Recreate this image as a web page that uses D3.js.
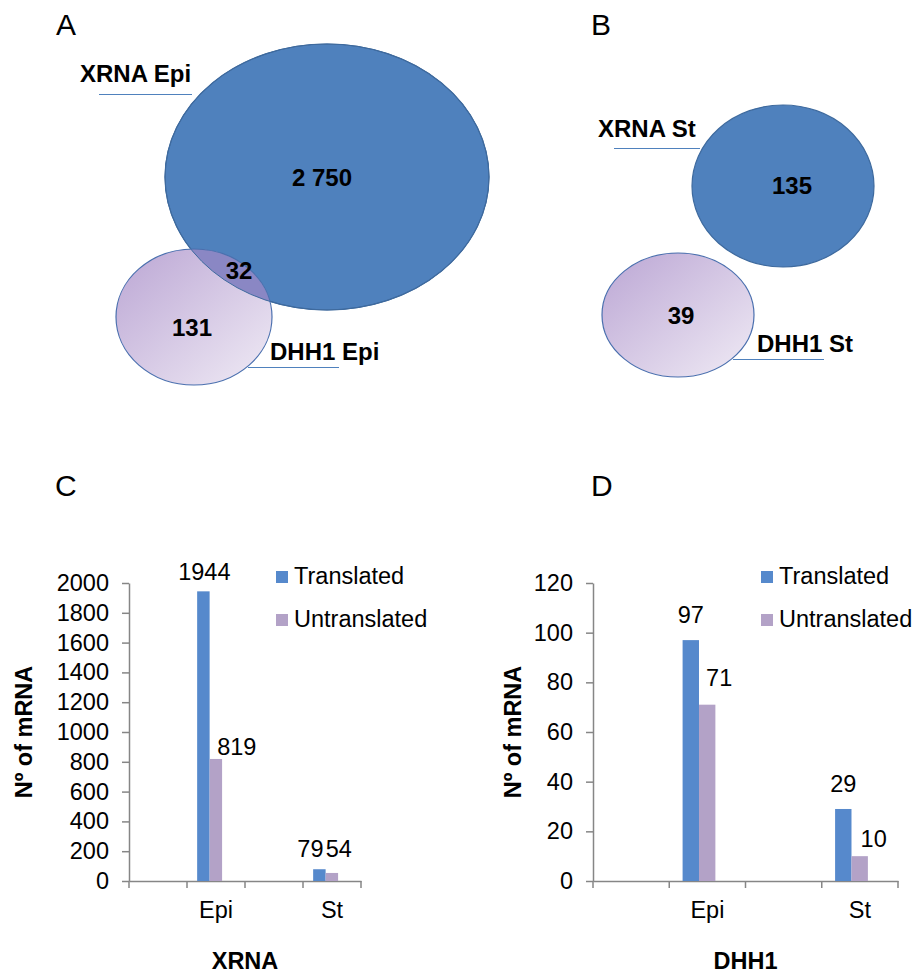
<!DOCTYPE html>
<html>
<head>
<meta charset="utf-8">
<script src="https://cdn.jsdelivr.net/npm/d3@7"></script>
<style>
  body { margin: 0; background: #fff; }
  text { font-family: "Liberation Sans", Arial, sans-serif; }
</style>
</head>
<body>
<script>
// Venn counts: [only first set, overlap, only second set]
const vennEpiSets = ["XRNA Epi", "DHH1 Epi"];
const vennEpiCounts = [2750, 32, 131];
const vennStSets = ["XRNA St", "DHH1 St"];
const vennStCounts = [135, null, 39];

// bar charts
const categories = ["Epi", "St"];
const seriesNames = ["Translated", "Untranslated"];
const xrnaTranslated = [1944, 79];
const xrnaUntranslated = [819, 54];
const dhh1Translated = [97, 29];
const dhh1Untranslated = [71, 10];
const xrnaTicks = [0, 200, 400, 600, 800, 1000, 1200, 1400, 1600, 1800, 2000];
const dhh1Ticks = [0, 20, 40, 60, 80, 100, 120];

const W = 915, H = 974;
const blue = "#5689CC", lilac = "#B3A2C7", axisGrey = "#868686";
const fmt = d3.formatLocale({ decimal: ".", thousands: " ", grouping: [3], currency: ["", ""] }).format(",d");

const svg = d3.select('body').append('svg')
    .attr('width', W)
    .attr('height', H);

const defs = svg.append('defs');
const grad = defs.append('linearGradient')
    .attr('id', 'lilacGrad')
    .attr('x1', '0%').attr('y1', '0%')
    .attr('x2', '100%').attr('y2', '100%');
grad.append('stop').attr('offset', '0%').attr('stop-color', '#BBA6D4');
grad.append('stop').attr('offset', '100%').attr('stop-color', '#F0EBF5');

// panel letters
[["A", 56, 35], ["B", 591, 35], ["C", 55, 496], ["D", 591, 496]].forEach(([t, x, y]) => {
    svg.append('text').attr('x', x).attr('y', y)
        .attr('font-size', 30).attr('fill', '#000').text(t);
});

// ---------- Venn diagrams ----------
function drawVenn(sets, counts, L, id) {
    const g = svg.append('g');
    const big = L.big, small = L.small;

    g.append('ellipse')
        .attr('cx', big.cx).attr('cy', big.cy).attr('rx', big.rx).attr('ry', big.ry)
        .attr('fill', '#4F81BD').attr('stroke', '#3E6A9E').attr('stroke-width', 1.2);

    g.append('ellipse')
        .attr('cx', small.cx).attr('cy', small.cy).attr('rx', small.rx).attr('ry', small.ry)
        .attr('fill', 'url(#lilacGrad)');

    if (counts[1] != null) {
        defs.append('clipPath').attr('id', id + 'clip')
            .append('ellipse')
            .attr('cx', big.cx).attr('cy', big.cy).attr('rx', big.rx).attr('ry', big.ry);
        g.append('ellipse')
            .attr('clip-path', `url(#${id}clip)`)
            .attr('cx', small.cx).attr('cy', small.cy).attr('rx', small.rx).attr('ry', small.ry)
            .attr('fill', '#8A87C4');
        g.append('ellipse')
            .attr('cx', big.cx).attr('cy', big.cy).attr('rx', big.rx).attr('ry', big.ry)
            .attr('fill', 'none').attr('stroke', '#3E6A9E').attr('stroke-width', 1);
    }

    g.append('ellipse')
        .attr('cx', small.cx).attr('cy', small.cy).attr('rx', small.rx).attr('ry', small.ry)
        .attr('fill', 'none').attr('stroke', '#4A6FAE').attr('stroke-width', 1.2);

    // set names with leader lines
    L.names.forEach((n, i) => {
        g.append('line')
            .attr('x1', n.lx1).attr('x2', n.lx2).attr('y1', n.ly).attr('y2', n.ly)
            .attr('stroke', '#4F81BD').attr('stroke-width', 1);
        g.append('text')
            .attr('x', n.tx).attr('y', n.ty)
            .attr('font-size', 24).attr('font-weight', 'bold').attr('fill', '#000')
            .text(sets[i]);
    });

    counts.forEach((c, i) => {
        if (c == null) return;
        g.append('text')
            .attr('x', L.counts[i][0]).attr('y', L.counts[i][1])
            .attr('text-anchor', 'middle')
            .attr('font-size', 24).attr('font-weight', 'bold').attr('fill', '#000')
            .text(fmt(c));
    });
}

drawVenn(vennEpiSets, vennEpiCounts, {
    big: { cx: 327, cy: 177, rx: 162, ry: 133 },
    small: { cx: 194, cy: 317, rx: 78, ry: 68 },
    names: [
        { tx: 80, ty: 82, lx1: 99, lx2: 192, ly: 94.5 },
        { tx: 270, ty: 360, lx1: 248, lx2: 339, ly: 367.5 }
    ],
    counts: [[322, 186], [239, 279], [192, 336]]
}, 'epi');

drawVenn(vennStSets, vennStCounts, {
    big: { cx: 783, cy: 186, rx: 91, ry: 81 },
    small: { cx: 678, cy: 315, rx: 76, ry: 62 },
    names: [
        { tx: 598, ty: 137, lx1: 614, lx2: 700, ly: 148.5 },
        { tx: 757, ty: 352, lx1: 733, lx2: 824, ly: 359.5 }
    ],
    counts: [[792, 194], null, [681, 324]]
}, 'st');

// ---------- bar charts ----------
function drawBars(cfg) {
    const g = svg.append('g');
    const slots = ["gap1", categories[0], "gap2", categories[1]];
    const x = d3.scaleBand().domain(slots).range([cfg.x0, cfg.x1]).padding(0);
    const y = d3.scaleLinear().domain([0, d3.max(cfg.ticks)]).range([cfg.yBottom, cfg.yTop]);
    const bw = x.bandwidth();
    const series = [cfg.translated, cfg.untranslated];
    const colors = [blue, lilac];

    // y axis
    const yAxis = g.append('g')
        .attr('transform', `translate(${cfg.x0},0)`)
        .call(d3.axisLeft(y).tickValues(cfg.ticks).tickFormat(d3.format('d'))
            .tickSize(7).tickPadding(13).tickSizeOuter(0));
    yAxis.select('.domain').attr('stroke', axisGrey).attr('stroke-width', 1.5);
    yAxis.selectAll('.tick line').attr('stroke', axisGrey).attr('stroke-width', 1.5);
    yAxis.selectAll('.tick text').attr('font-size', 23.5).attr('fill', '#000')
        .attr('font-family', '"Liberation Sans", Arial, sans-serif');

    // x axis
    const xAxis = g.append('g')
        .attr('transform', `translate(0,${cfg.yBottom})`)
        .call(d3.axisBottom(x).tickSize(0).tickPadding(20).tickSizeOuter(0)
            .tickFormat(d => d.startsWith('gap') ? '' : d));
    xAxis.select('.domain').attr('stroke', axisGrey).attr('stroke-width', 1.5);
    xAxis.selectAll('.tick text').attr('font-size', 23.5).attr('fill', '#000')
        .attr('font-family', '"Liberation Sans", Arial, sans-serif');
    const bounds = slots.map(d => x(d)).concat([x.range()[1]]);
    g.selectAll('line.bound').data(bounds).join('line')
        .attr('class', 'bound')
        .attr('x1', d => d).attr('x2', d => d)
        .attr('y1', cfg.yBottom).attr('y2', cfg.yBottom + 7)
        .attr('stroke', axisGrey).attr('stroke-width', 1.5);

    // bars
    const groupW = 0.43 * bw;
    const barW = groupW / 2;
    const left = c => x(c) + bw / 2 - 0.11 * bw - groupW / 2;
    series.forEach((vals, s) => {
        g.selectAll(null).data(vals).join('rect')
            .attr('x', (d, i) => left(categories[i]) + s * barW)
            .attr('y', d => y(d))
            .attr('width', barW)
            .attr('height', d => cfg.yBottom - y(d))
            .attr('fill', colors[s]);
        g.selectAll(null).data(vals).join('text')
            .attr('x', (d, i) => left(categories[i]) + s * barW + barW / 2 + cfg.nudge[s][i][0])
            .attr('y', (d, i) => y(d) + cfg.nudge[s][i][1])
            .attr('text-anchor', 'middle')
            .attr('font-size', 23.5).attr('fill', '#000')
            .text(d => d);
    });

    // legend
    seriesNames.forEach((n, i) => {
        g.append('rect')
            .attr('x', cfg.legX).attr('y', 571 + i * 43)
            .attr('width', 12).attr('height', 12)
            .attr('fill', colors[i]);
        g.append('text')
            .attr('x', cfg.legX + 18).attr('y', 584 + i * 43)
            .attr('font-size', 23.5).attr('fill', '#000')
            .text(n);
    });

    // axis titles
    g.append('text')
        .attr('transform', `translate(${cfg.yTitleX},${(cfg.yTop + cfg.yBottom) / 2}) rotate(-90)`)
        .attr('text-anchor', 'middle')
        .attr('font-size', 23.5).attr('font-weight', 'bold').attr('fill', '#000')
        .text('Nº of mRNA');
    g.append('text')
        .attr('x', (cfg.x0 + cfg.x1) / 2).attr('y', 969)
        .attr('text-anchor', 'middle')
        .attr('font-size', 23.5).attr('font-weight', 'bold').attr('fill', '#000')
        .text(cfg.title);
}

drawBars({
    x0: 129, x1: 361, yTop: 583, yBottom: 881,
    ticks: xrnaTicks, translated: xrnaTranslated, untranslated: xrnaUntranslated,
    nudge: [[[1, -11], [-9, -12]], [[21, -4], [7, -16]]],
    legX: 276, yTitleX: 32, title: 'XRNA'
});

drawBars({
    x0: 593, x1: 898, yTop: 583, yBottom: 881,
    ticks: dhh1Ticks, translated: dhh1Translated, untranslated: dhh1Untranslated,
    nudge: [[[0, -17], [0, -17]], [[12, -19], [14, -9]]],
    legX: 761, yTitleX: 521, title: 'DHH1'
});
</script>
</body>
</html>
